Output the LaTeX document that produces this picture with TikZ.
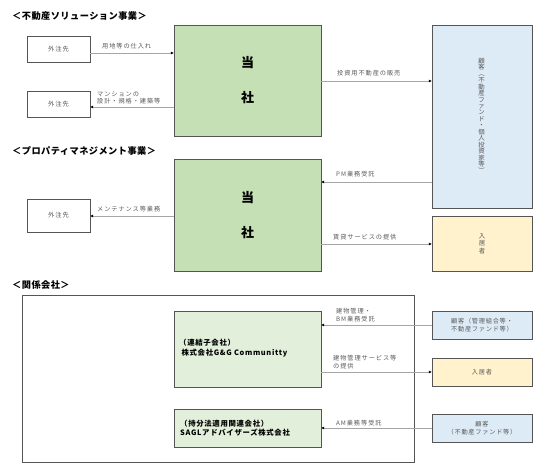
\documentclass[tikz,border=0pt]{standalone}
\usepackage{fontspec}
\setmainfont{Noto Sans CJK JP}
\usetikzlibrary{arrows.meta,calc}
\definecolor{bgreen}{HTML}{C5E0B4}
\definecolor{lgreen}{HTML}{E2EFDA}
\definecolor{lblue}{HTML}{DDEBF7}
\definecolor{lyellow}{HTML}{FFF2CC}
\definecolor{bord}{HTML}{555555}
\definecolor{lbl}{HTML}{595959}
\definecolor{arrg}{HTML}{A6A6A6}
\tikzset{
  box/.style={draw=bord, line width=0.9pt, anchor=north west, inner sep=0pt, outer sep=0pt},
  gbox/.style={box, fill=bgreen},
  wbox/.style={box, fill=white, text=lbl, font=\fontsize{6.3}{7}\selectfont\addfontfeature{LetterSpace=15}},
  bbox/.style={box, fill=lblue, text=lbl, align=center, font=\fontsize{6.2}{7.4}\selectfont\addfontfeature{LetterSpace=12}},
  ybox/.style={box, fill=lyellow, text=lbl, align=center, font=\fontsize{6.2}{7.4}\selectfont\addfontfeature{LetterSpace=12}},
  lgbox/.style={box, fill=lgreen, line width=0.9pt},
  arr/.style={draw=arrg, line width=0.8pt, -{Latex[length=3.2pt,width=3pt,color=black]}},
  lab/.style={text=lbl, anchor=west, inner sep=0pt, align=left, font=\fontsize{6.2}{7.6}\selectfont\addfontfeature{LetterSpace=15}},
  ttl/.style={anchor=west, inner sep=0pt, font=\fontsize{9.2}{10}\selectfont\bfseries\addfontfeature{LetterSpace=5}},
  tosha/.style={font=\fontsize{13}{35}\selectfont\bfseries, align=center, inner sep=0pt}
}
\begin{document}
\begin{tikzpicture}[x=1pt,y=-1pt]
\useasboundingbox (0,0) rectangle (552,472);
% ---------- section 1
\node[ttl] (t1) at (12,16) {＜不動産ソリューション事業＞};
\node[wbox, minimum width=63pt, minimum height=26pt] (g1) at (27,36) {外注先};
\node[wbox, minimum width=63pt, minimum height=26pt] (g2) at (27,91) {外注先};
\node[gbox, minimum width=147pt, minimum height=111pt] (c1) at (174,25) {};
\node[tosha] (c1t) at (c1.center) {当\\社};
\node[bbox, minimum width=100pt, minimum height=183pt] (k1) at (432,25) {};
\node[text=lbl, align=center, inner sep=0pt, font=\fontsize{6.4}{6.45}\selectfont] (k1t) at (481.5,116) {顧\\客\\\rotatebox[origin=c]{-90}{（}\\不\\動\\産\\フ\\ァ\\ン\\ド\\・\\個\\人\\投\\資\\家\\等\\\rotatebox[origin=c]{-90}{）}};
\coordinate (y1) at (0,53);
\coordinate (y2) at (0,107);
\coordinate (y3) at (0,81);
\draw[arr] (g1.east |- y1) -- (c1.west |- y1);
\draw[arr] (c1.west |- y2) -- (g2.east |- y2);
\draw[arr] (c1.east |- y3) -- (k1.west |- y3);
\node[lab] (l1) at (102,46) {用地等の仕入れ};
\node[lab] (l2) at (97,98) {マンションの\\設計・規格・建築等};
\node[lab] (l3) at (337,73) {投資用不動産の販売};
% ---------- section 2
\node[ttl] (t2) at (12,151) {＜プロパティマネジメント事業＞};
\node[gbox, minimum width=147pt, minimum height=112pt] (c2) at (174,159) {};
\node[tosha] (c2t) at (c2.center) {当\\社};
\node[wbox, minimum width=63pt, minimum height=33pt] (g3) at (27,199) {外注先};
\node[ybox, minimum width=100pt, minimum height=55pt] (n1) at (432,216) {};
\node[text=lbl, align=center, inner sep=0pt, font=\fontsize{6.4}{7.5}\selectfont] (n1t) at (n1.center) {入\\居\\者};
\coordinate (y4) at (0,182);
\coordinate (y5) at (0,216);
\coordinate (y6) at (0,244);
\draw[arr] (k1.west |- y4) -- (c2.east |- y4);
\draw[arr] (c2.west |- y5) -- (g3.east |- y5);
\draw[arr] (c2.east |- y6) -- (n1.west |- y6);
\node[lab] (l4) at (336,174) {PM業務受託};
\node[lab] (l5) at (97,209) {メンテナンス等業務};
\node[lab] (l6) at (333,237) {賃貸サービスの提供};
% ---------- section 3
\node[ttl] (t3) at (12,285) {＜関係会社＞};
\node[box, minimum width=392pt, minimum height=167pt] (outer) at (22,295) {};
\node[lgbox, minimum width=147pt, minimum height=76pt] (gg) at (174,311) {};
\node[anchor=west, inner sep=0pt, align=left, font=\fontsize{7.4}{10}\selectfont\bfseries\addfontfeature{LetterSpace=9}] (ggt) at (179,348) {（連結子会社）\\\ 株式会社G\&G Communitty};
\node[lgbox, minimum width=147pt, minimum height=38pt] (sg) at (174,409) {};
\node[anchor=west, inner sep=0pt, align=left, font=\fontsize{7.4}{9.5}\selectfont\bfseries\addfontfeature{LetterSpace=9}] (sgt) at (180,428) {（持分法適用関連会社）\\SAGLアドバイザーズ株式会社};
\node[bbox, minimum width=100pt, minimum height=28pt] (k2) at (432,311) {顧客（管理組合等・\\不動産ファンド等）};
\node[ybox, minimum width=100pt, minimum height=28pt] (n2) at (432,358) {入居者};
\node[bbox, minimum width=100pt, minimum height=28pt] (k3) at (432,414) {顧客\\（不動産ファンド等）};
\coordinate (y7) at (0,325);
\coordinate (y8) at (0,372);
\coordinate (y9) at (0,428);
\draw[arr] (k2.west |- y7) -- (gg.east |- y7);
\draw[arr] (gg.east |- y8) -- (n2.west |- y8);
\draw[arr] (k3.west |- y9) -- (sg.east |- y9);
\node[lab] (l7) at (336,315) {建物管理・\\BM業務受託};
\node[lab] (l8) at (333,362) {建物管理サービス等\\の提供};
\node[lab] (l9) at (336,423) {AM業務等受託};
\end{tikzpicture}
\end{document}
